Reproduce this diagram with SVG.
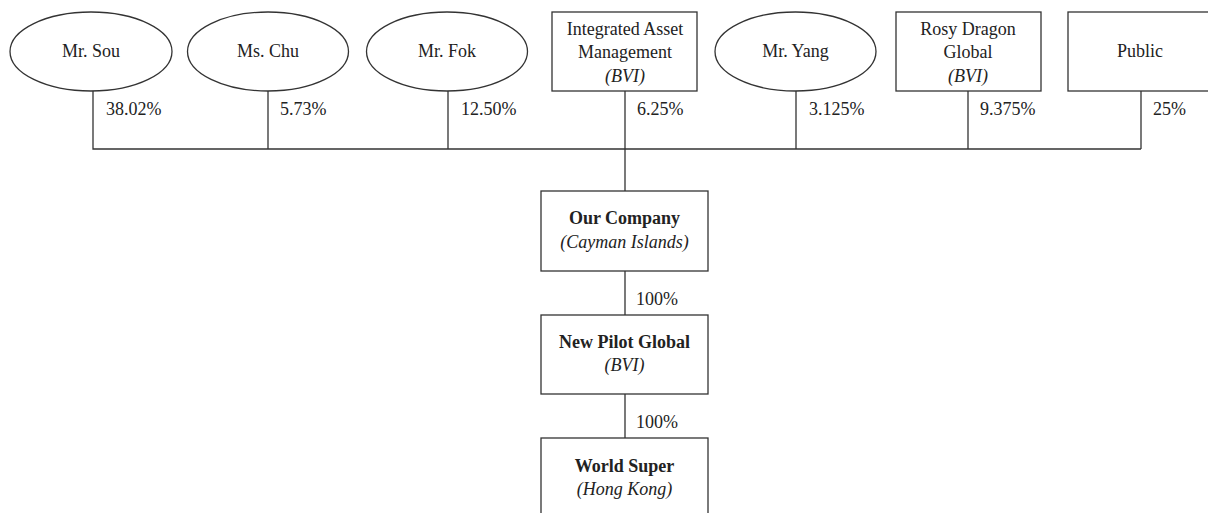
<svg xmlns="http://www.w3.org/2000/svg" width="1208" height="513" viewBox="0 0 1208 513">
<style>
.s{fill:#fff;stroke:#333;stroke-width:1.3}
.l{fill:none;stroke:#333;stroke-width:1.3}
text{font-family:"Liberation Serif","Times New Roman",serif;font-size:18px;fill:#222}
.c{text-anchor:middle}
.b{font-weight:bold}
.i{font-style:italic}
</style>
<rect width="1208" height="513" fill="#fff"/>
<g id="connectors">
<path class="l" d="M93 91V149H1141M268 91V149M448 91V149M625 91V191M796 91V149M968 91V149M1141 91V149"/>
<path class="l" d="M625 271V315M625 394V438"/>
<text x="106" y="115">38.02%</text>
<text x="280" y="115">5.73%</text>
<text x="461" y="115">12.50%</text>
<text x="637" y="115">6.25%</text>
<text x="809" y="115">3.125%</text>
<text x="980" y="115">9.375%</text>
<text x="1153" y="115">25%</text>
<text x="636" y="305">100%</text>
<text x="636" y="428">100%</text>
</g>
<g id="mr-sou"><ellipse class="s" cx="91" cy="51.5" rx="81" ry="39.5"/><text class="c" x="91" y="57">Mr. Sou</text></g>
<g id="ms-chu"><ellipse class="s" cx="268" cy="51.5" rx="80.5" ry="39.5"/><text class="c" x="268" y="57">Ms. Chu</text></g>
<g id="mr-fok"><ellipse class="s" cx="447" cy="51.5" rx="80.5" ry="39.5"/><text class="c" x="447" y="57">Mr. Fok</text></g>
<g id="iam"><rect class="s" x="552" y="12" width="145" height="79"/><text class="c" x="625" y="35">Integrated Asset</text><text class="c" x="625" y="58">Management</text><text class="c i" x="625" y="82">(BVI)</text></g>
<g id="mr-yang"><ellipse class="s" cx="795.5" cy="51.5" rx="80.5" ry="39.5"/><text class="c" x="795.5" y="57">Mr. Yang</text></g>
<g id="rosy"><rect class="s" x="896" y="12" width="145" height="79"/><text class="c" x="968" y="35">Rosy Dragon</text><text class="c" x="968" y="58">Global</text><text class="c i" x="968" y="82">(BVI)</text></g>
<g id="public"><rect class="s" x="1068" y="12" width="145" height="79"/><text class="c" x="1140" y="57">Public</text></g>
<g id="our-company"><rect class="s" x="541" y="191" width="167" height="80"/><text class="c b" x="624.5" y="224">Our Company</text><text class="c i" x="624.5" y="248">(Cayman Islands)</text></g>
<g id="new-pilot"><rect class="s" x="541" y="315" width="167" height="79"/><text class="c b" x="624.5" y="348">New Pilot Global</text><text class="c i" x="624.5" y="371">(BVI)</text></g>
<g id="world-super"><rect class="s" x="541" y="438" width="167" height="90"/><text class="c b" x="624.5" y="472">World Super</text><text class="c i" x="624.5" y="495">(Hong Kong)</text></g>
</svg>
